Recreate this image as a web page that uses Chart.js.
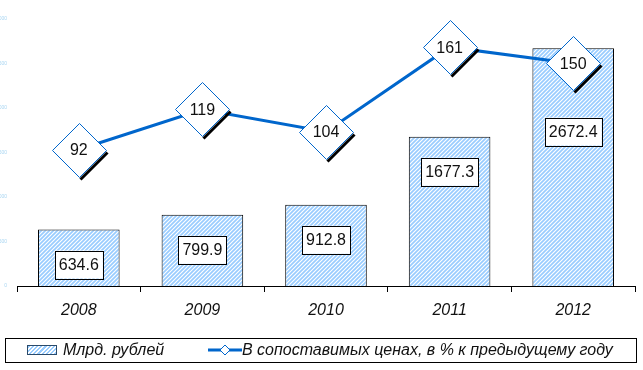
<!DOCTYPE html>
<html>
<head>
<meta charset="utf-8">
<script src="https://cdn.jsdelivr.net/npm/chart.js@4/dist/chart.umd.min.js"></script>
<style>
  body { margin: 0; background: #fff; }
  #wrap { position: relative; width: 643px; height: 370px; }
  #legend {
    position: absolute; left: 5px; top: 338px; width: 630px; height: 23px;
    border: 1px solid #000; font: italic 16px 'Liberation Sans', Arial, sans-serif; color: #111;
  }
  #legend .item { position: absolute; top: 2px; line-height: 18px; white-space: nowrap; }
  .hatch {
    display: inline-block; width: 28px; height: 8px; border: 1px solid #2a4a6a;
    background: repeating-linear-gradient(-45deg, #99ccff 0 1.5px, #fff 1.5px 3px);
    vertical-align: middle; margin-right: 6px; margin-top: -2px;
  }
</style>
</head>
<body>
<div id="wrap">
  <canvas id="chartMix" width="643" height="370"></canvas>
  <div id="legend">
    <div class="item" style="left:21px"><span class="hatch"></span>Млрд. рублей</div>
    <div class="item" style="left:202px">
      <svg width="34" height="12" style="vertical-align:middle;margin-top:-2px">
        <line x1="0" y1="6" x2="34" y2="6" stroke="#0066cc" stroke-width="3"/>
        <path d="M17 1 L22 6 L17 11 L12 6 Z" fill="#fff" stroke="#0066cc" stroke-width="1"/>
      </svg>В сопоставимых ценах, в % к предыдущему году
    </div>
  </div>
</div>
<script>
const years = ['2008', '2009', '2010', '2011', '2012']
const rubles = [634.6, 799.9, 912.8, 1677.3, 2672.4]
const percent = [92, 119, 104, 161, 150]

function makeHatch() {
  const c = document.createElement('canvas')
  c.width = 4; c.height = 4
  const g = c.getContext('2d')
  g.fillStyle = '#fff'
  g.fillRect(0, 0, 4, 4)
  g.strokeStyle = '#99ccff'
  g.lineWidth = 1.7
  g.beginPath()
  g.moveTo(-1, 5); g.lineTo(5, -1)
  g.moveTo(-1, 1); g.lineTo(1, -1)
  g.moveTo(3, 5); g.lineTo(5, 3)
  g.stroke()
  return g.createPattern(c, 'repeat')
}

const HALF = 27 // half diagonal of the diamond labels

const labelPlugin = {
  id: 'boxLabels',
  afterDatasetsDraw(chart) {
    const ctx = chart.ctx
    const bars = chart.getDatasetMeta(0).data
    const pts = chart.getDatasetMeta(1).data
    ctx.save()
    ctx.font = '16px "Liberation Sans", Arial, sans-serif'
    ctx.textAlign = 'center'
    ctx.textBaseline = 'middle'

    // bar value boxes
    bars.forEach((bar, i) => {
      const txt = rubles[i].toFixed(1)
      const w = ctx.measureText(txt).width + 8
      const h = 28
      let cy = bar.y + 35
      const p = pts[i]
      if (p && p.y + HALF + 4 > cy - h / 2 && p.y - HALF < cy + h / 2) {
        cy = p.y + HALF + 27 + h / 2
      }
      ctx.fillStyle = '#fff'
      ctx.fillRect(bar.x - w / 2, cy - h / 2, w, h)
      ctx.strokeStyle = '#000'
      ctx.lineWidth = 1
      ctx.strokeRect(Math.round(bar.x - w / 2) + 0.5, Math.round(cy - h / 2) + 0.5, Math.round(w), h)
      ctx.fillStyle = '#111'
      ctx.fillText(txt, bar.x, cy + 1)
    })

    // diamond labels on the line
    pts.forEach((p, i) => {
      const x = Math.round(p.x) + 0.5, y = Math.round(p.y) + 0.5
      ctx.strokeStyle = '#000'
      ctx.lineWidth = 3
      ctx.beginPath()
      ctx.moveTo(x + HALF + 1, y + 2)
      ctx.lineTo(x + 1, y + HALF + 2)
      ctx.stroke()
      ctx.beginPath()
      ctx.moveTo(x, y - HALF)
      ctx.lineTo(x + HALF, y)
      ctx.lineTo(x, y + HALF)
      ctx.lineTo(x - HALF, y)
      ctx.closePath()
      ctx.fillStyle = '#fff'
      ctx.fill()
      ctx.strokeStyle = '#0066cc'
      ctx.lineWidth = 1
      ctx.stroke()
      ctx.fillStyle = '#111'
      ctx.fillText(String(percent[i]), p.x, p.y + 1)
    })
    ctx.restore()
  }
}

const tinyTicks = { font: { size: 5 }, color: '#a9d6f2', padding: 2 }

new Chart(document.getElementById('chartMix'), {
  type: 'bar',
  data: {
    labels: years,
    datasets: [
      {
        type: 'bar',
        label: 'Млрд. рублей',
        data: rubles,
        yAxisID: 'y',
        backgroundColor: makeHatch(),
        borderColor: '#000',
        borderWidth: 1,
        categoryPercentage: 1,
        barPercentage: 0.66,
        order: 2
      },
      {
        type: 'line',
        label: 'В сопоставимых ценах, в % к предыдущему году',
        data: percent,
        yAxisID: 'y1',
        borderColor: '#0066cc',
        borderWidth: 3,
        pointRadius: 0,
        tension: 0,
        order: 1
      }
    ]
  },
  options: {
    responsive: false,
    animation: false,
    layout: { padding: { top: 19 } },
    plugins: { legend: { display: false }, tooltip: { enabled: false } },
    scales: {
      x: {
        grid: { offset: true, drawOnChartArea: false, tickLength: 6, color: '#000' },
        border: { color: '#000', width: 1 },
        ticks: { font: { family: '"Liberation Sans", Arial, sans-serif', size: 16, style: 'italic' }, color: '#111', padding: 9 },
        afterFit(scale) { scale.height = 84 }
      },
      y: {
        position: 'left',
        min: 0, max: 3000,
        ticks: { ...tinyTicks, stepSize: 500 },
        grid: { display: false },
        border: { display: false },
        afterFit(scale) { scale.width = 17 }
      },
      y1: {
        position: 'right',
        min: 0, max: 180,
        ticks: { ...tinyTicks, stepSize: 20 },
        grid: { display: false },
        border: { display: false },
        afterFit(scale) { scale.width = 8 }
      }
    }
  },
  plugins: [labelPlugin]
})
</script>
</body>
</html>
